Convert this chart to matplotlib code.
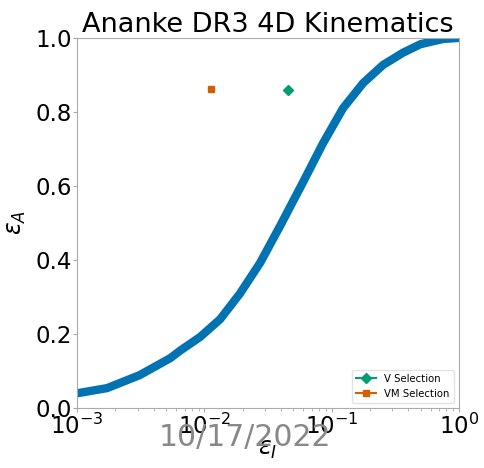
import matplotlib
matplotlib.use("Agg")
import matplotlib.pyplot as plt
import numpy as np

# efficiency curve
eps_i = [0.001, 0.00172, 0.0031, 0.0054, 0.00644, 0.00925, 0.0133, 0.0191, 0.0274,
         0.0394, 0.0596, 0.0855, 0.123, 0.177, 0.254, 0.364, 0.50, 0.75, 1.0]
eps_a = [0.040, 0.054, 0.089, 0.135, 0.155, 0.192, 0.240, 0.310, 0.392,
         0.492, 0.610, 0.715, 0.810, 0.878, 0.927, 0.960, 0.983, 0.997, 1.0]

v_sel = (0.0454, 0.860)
vm_sel = (0.0113, 0.862)

blue = "#0173b2"
green = "#029e73"
orange = "#d55e00"
grey = "#aaaaaa"


def main():
    fig = plt.figure(figsize=(4.85, 4.68), dpi=100)
    ax = fig.add_axes([0.159, 0.128, 0.787, 0.791])

    ax.plot(eps_i, eps_a, color=blue, lw=6, solid_joinstyle="round")
    ax.plot([v_sel[0]], [v_sel[1]], marker="D", color=green, ms=5, label="V Selection")
    ax.plot([vm_sel[0]], [vm_sel[1]], marker="s", color=orange, ms=5, label="VM Selection")

    ax.set_xscale("log")
    ax.set_xlim(1e-3, 1)
    ax.set_ylim(0, 1)

    for s in ax.spines.values():
        s.set_color(grey)
    ax.tick_params(which="both", colors=grey, labelcolor="black", labelsize=16.5, pad=1)
    ax.tick_params(which="major", length=3)
    ax.tick_params(which="minor", length=2)

    ax.set_title("Ananke DR3 4D Kinematics", fontsize=19.5, pad=3)
    ax.set_xlabel(r"$\epsilon_I$", fontsize=17, labelpad=-1)
    ax.set_ylabel(r"$\epsilon_A$", fontsize=17, labelpad=5)

    ax.legend(loc="lower right", fontsize=7.3, edgecolor="#dddddd")

    fig.text(0.505, 0.066, "10/17/2022", fontsize=21.5, color="#888888",
             ha="center", va="center")

    fig.savefig("out.png", dpi=100)


if __name__ == "__main__":
    main()
